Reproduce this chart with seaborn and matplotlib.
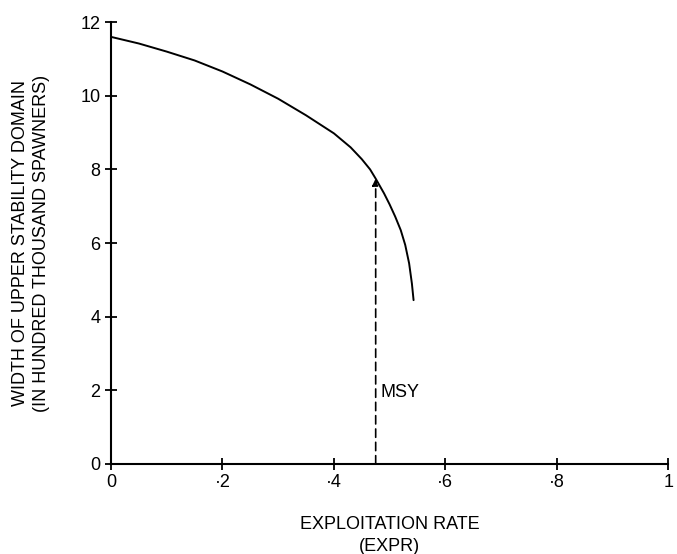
import matplotlib
matplotlib.use("Agg")
import matplotlib.pyplot as plt
import seaborn as sns
import pandas as pd

# data
expr = [0.0, 0.05, 0.10, 0.15, 0.20, 0.25, 0.30, 0.35, 0.40, 0.43, 0.45, 0.465, 0.475,
        0.49, 0.50, 0.51, 0.52, 0.528, 0.535, 0.54, 0.543]
width = [11.6, 11.42, 11.2, 10.96, 10.66, 10.31, 9.92, 9.47, 8.98, 8.6, 8.28, 8.0, 7.75,
         7.35, 7.05, 6.72, 6.35, 5.95, 5.45, 4.9, 4.45]
msy_x = 0.475
msy_y = 7.75
x_ticks = [0, 0.2, 0.4, 0.6, 0.8, 1.0]
x_ticklabels = ["0", "·2", "·4", "·6", "·8", "1"]
y_ticks = [0, 2, 4, 6, 8, 10, 12]
y_ticklabels = ["0", "2", "4", "6", "8", "10", "12"]

sns.set_theme(style="ticks")
plt.rcParams["font.family"] = ["Liberation Sans", "DejaVu Sans"]
plt.rcParams["text.color"] = "black"
plt.rcParams["axes.labelcolor"] = "black"

fig = plt.figure(figsize=(6.77, 5.54), dpi=100)
ax = fig.add_axes([0.164, 0.1625, 0.823, 0.7975])

df = pd.DataFrame({"expr": expr, "width": width})
sns.lineplot(data=df, x="expr", y="width", ax=ax, color="black", linewidth=1.4, sort=False)

ax.annotate("", xy=(msy_x, msy_y), xytext=(msy_x, 0),
            arrowprops=dict(arrowstyle="-|>", color="black", lw=1.2,
                            linestyle=(0, (5, 3)), mutation_scale=10, shrinkA=0, shrinkB=0))
ax.text(msy_x + 0.009, 1.95, "MSY", fontsize=13, color="black", va="center", ha="left")

ax.set_xlim(0, 1)
ax.set_ylim(0, 12)
ax.set_xticks(x_ticks)
ax.set_xticklabels(x_ticklabels)
ax.set_yticks(y_ticks)
ax.set_yticklabels(y_ticklabels)
ax.tick_params(direction="inout", length=9, width=1.3, labelsize=13, colors="black", pad=3)
for s in ["top", "right"]:
    ax.spines[s].set_visible(False)
for s in ["left", "bottom"]:
    ax.spines[s].set_linewidth(1.5)
    ax.spines[s].set_color("black")

ax.set_xlabel("EXPLOITATION RATE\n(EXPR)", fontsize=13, labelpad=18, linespacing=1.35)
ax.set_ylabel("WIDTH OF UPPER STABILITY DOMAIN\n(IN HUNDRED THOUSAND SPAWNERS)", fontsize=13,
              labelpad=22, linespacing=1.3)

fig.savefig("out.png", dpi=100)
